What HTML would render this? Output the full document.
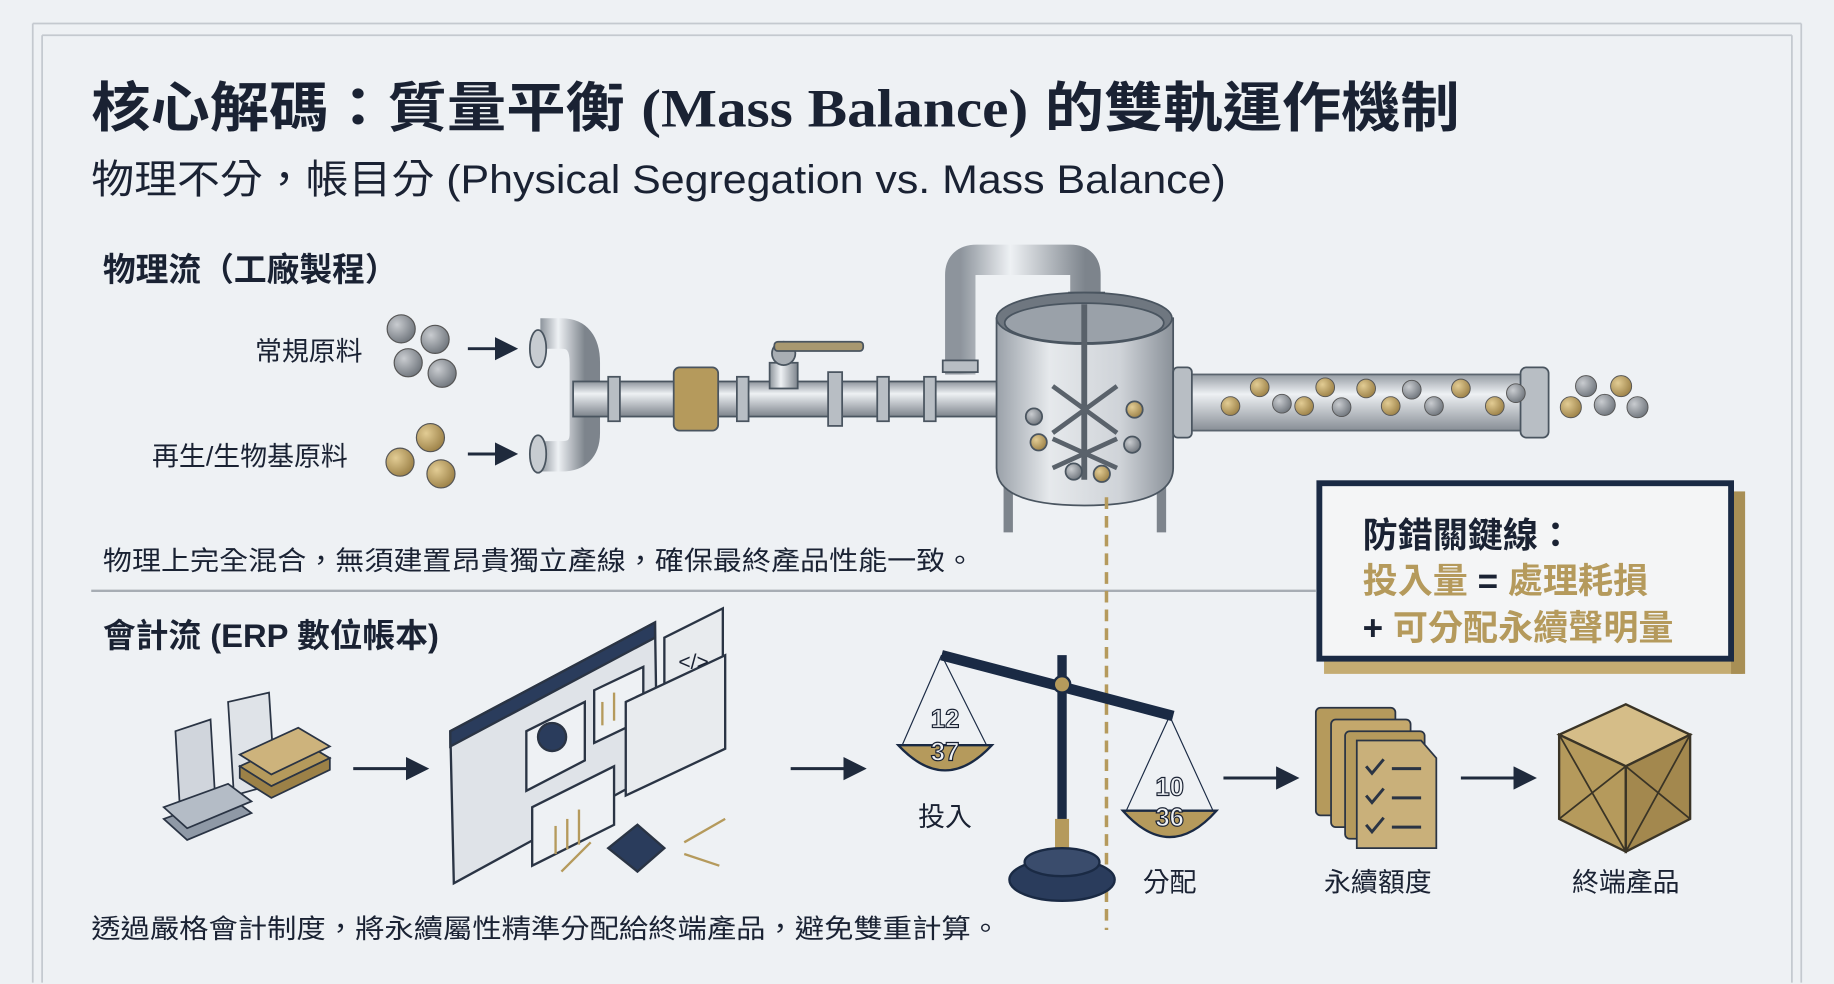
<!DOCTYPE html>
<html><head><meta charset="utf-8"><style>
html,body{margin:0;padding:0;background:#eef1f4;}
svg{display:block;}
text{font-family:"Liberation Sans","Noto Sans CJK TC",sans-serif;fill:#1a2233;}
</style></head><body>
<svg width="1834" height="984" viewBox="0 0 1568 841" xmlns="http://www.w3.org/2000/svg">
<defs>
<linearGradient id="pipe" x1="0" y1="0" x2="0" y2="1"><stop offset="0" stop-color="#8d949c"/><stop offset="0.35" stop-color="#eef1f4"/><stop offset="1" stop-color="#7d848c"/></linearGradient>
<linearGradient id="pipev" x1="0" y1="0" x2="1" y2="0"><stop offset="0" stop-color="#8d949c"/><stop offset="0.4" stop-color="#eef1f4"/><stop offset="1" stop-color="#7d848c"/></linearGradient>
<linearGradient id="tank" x1="0" y1="0" x2="1" y2="0"><stop offset="0" stop-color="#9aa1a9"/><stop offset="0.3" stop-color="#e6e9ec"/><stop offset="0.7" stop-color="#cfd3d8"/><stop offset="1" stop-color="#8a9199"/></linearGradient>
<radialGradient id="gb" cx="0.35" cy="0.35" r="0.7"><stop offset="0" stop-color="#c9ccd0"/><stop offset="1" stop-color="#70767d"/></radialGradient>
<radialGradient id="yb" cx="0.35" cy="0.35" r="0.7"><stop offset="0" stop-color="#e2cc94"/><stop offset="1" stop-color="#9c8147"/></radialGradient>
<marker id="ar" markerWidth="8" markerHeight="8" refX="6" refY="4" orient="auto"><path d="M0,0 L8,4 L0,8 z" fill="#1f2a3c"/></marker>
</defs>
<rect width="1568" height="841" fill="#eef1f4"/>
<g stroke="#c4c9cf" stroke-width="1.5" fill="none">
<path d="M28,20 H1540 M36,30 H1532 M28,20 V840 M36,30 V840 M1540,20 V840 M1532,30 V840"/>
</g>
<text x="78" y="108" font-size="46" font-weight="bold" textLength="1170" lengthAdjust="spacingAndGlyphs">核心解碼：質量平衡 <tspan font-family="Liberation Serif,serif">(Mass Balance)</tspan> 的雙軌運作機制</text>
<text x="78" y="165" font-size="34" textLength="970" lengthAdjust="spacingAndGlyphs">物理不分，帳目分  (Physical Segregation vs. Mass Balance)</text>
<text x="88" y="240" font-size="28" font-weight="bold">物理流（工廠製程）</text>
<text x="218" y="308" font-size="23">常規原料</text>
<text x="130" y="398" font-size="23">再生/生物基原料</text>
<g stroke="#555" stroke-width="1"><circle cx="343" cy="281" r="12" fill="url(#gb)"/><circle cx="372" cy="290" r="12" fill="url(#gb)"/><circle cx="349" cy="310" r="12" fill="url(#gb)"/><circle cx="378" cy="319" r="12" fill="url(#gb)"/>
<circle cx="368" cy="374" r="12" fill="url(#yb)"/><circle cx="342" cy="395" r="12" fill="url(#yb)"/><circle cx="377" cy="405" r="12" fill="url(#yb)"/></g>
<g stroke="#1f2a3c" stroke-width="2.5" marker-end="url(#ar)"><line x1="400" y1="298" x2="438" y2="298"/><line x1="400" y1="388" x2="438" y2="388"/></g>
<g stroke="#4a5560" stroke-width="1.5">
<path d="M462,285 H480 Q500,285 500,310 V341" fill="none" stroke="url(#pipev)" stroke-width="26"/>
<path d="M462,390 H480 Q500,390 500,370 V341" fill="none" stroke="url(#pipev)" stroke-width="26"/>
<ellipse cx="460" cy="298" rx="7" ry="16" fill="#c7ccd1"/><ellipse cx="460" cy="388" rx="7" ry="16" fill="#c7ccd1"/>
<rect x="490" y="326" width="370" height="30" fill="url(#pipe)"/>
<rect x="576" y="314" width="38" height="54" rx="5" fill="#b59a5c"/>
<rect x="658" y="310" width="24" height="22" fill="url(#pipev)"/><circle cx="670" cy="302" r="10" fill="#a8aeb4"/>
<rect x="662" y="292" width="76" height="8" rx="3" fill="#a89870"/>
<rect x="520" y="322" width="10" height="38" fill="#b8bec4"/><rect x="630" y="322" width="10" height="38" fill="#b8bec4"/><rect x="708" y="318" width="12" height="46" fill="#b8bec4"/><rect x="750" y="322" width="10" height="38" fill="#b8bec4"/><rect x="790" y="322" width="10" height="38" fill="#b8bec4"/>
<path d="M821,320 V235 Q821,222 835,222 H915 Q928,222 928,235 V275" fill="none" stroke="url(#pipev)" stroke-width="26"/>
<rect x="806" y="308" width="30" height="10" fill="#b8bec4"/><rect x="914" y="250" width="30" height="10" fill="#b8bec4"/>
<line x1="862" y1="410" x2="862" y2="455" stroke="#7d848c" stroke-width="8"/><line x1="993" y1="410" x2="993" y2="455" stroke="#7d848c" stroke-width="8"/>
<path d="M852,272 V400 Q852,432 927,432 Q1003,432 1003,400 V272 z" fill="url(#tank)"/>
<ellipse cx="927" cy="272" rx="75" ry="22" fill="#6f7780"/><ellipse cx="927" cy="276" rx="68" ry="17" fill="#9aa1a9"/>
<line x1="927" y1="260" x2="927" y2="410" stroke="#59616a" stroke-width="5"/>
<path d="M900,330 L955,370 M955,330 L900,370 M900,375 L955,400 M955,375 L900,400" stroke="#5a626b" stroke-width="4"/>
<circle cx="884" cy="356" r="7" fill="url(#gb)"/><circle cx="888" cy="378" r="7" fill="url(#yb)"/><circle cx="968" cy="380" r="7" fill="url(#gb)"/><circle cx="918" cy="403" r="7" fill="url(#gb)"/><circle cx="942" cy="405" r="7" fill="url(#yb)"/><circle cx="970" cy="350" r="7" fill="url(#yb)"/>
<rect x="1005" y="320" width="312" height="48" fill="url(#pipe)" opacity="0.9"/>
<rect x="1003" y="314" width="16" height="60" rx="4" fill="#b8bec4"/><rect x="1300" y="314" width="24" height="60" rx="5" fill="#b8bec4"/>
</g>
<g stroke="#555" stroke-width="0.8">
<circle cx="1052" cy="347" r="8" fill="url(#yb)"/><circle cx="1077" cy="331" r="8" fill="url(#yb)"/><circle cx="1096" cy="345" r="8" fill="url(#gb)"/><circle cx="1115" cy="347" r="8" fill="url(#yb)"/><circle cx="1133" cy="331" r="8" fill="url(#yb)"/><circle cx="1147" cy="348" r="8" fill="url(#gb)"/><circle cx="1168" cy="332" r="8" fill="url(#yb)"/><circle cx="1189" cy="347" r="8" fill="url(#yb)"/><circle cx="1207" cy="333" r="8" fill="url(#gb)"/><circle cx="1226" cy="347" r="8" fill="url(#gb)"/><circle cx="1249" cy="332" r="8" fill="url(#yb)"/><circle cx="1278" cy="347" r="8" fill="url(#yb)"/><circle cx="1296" cy="336" r="8" fill="url(#gb)"/>
<circle cx="1356" cy="330" r="9" fill="url(#gb)"/><circle cx="1386" cy="330" r="9" fill="url(#yb)"/><circle cx="1343" cy="348" r="9" fill="url(#yb)"/><circle cx="1372" cy="346" r="9" fill="url(#gb)"/><circle cx="1400" cy="348" r="9" fill="url(#gb)"/>
</g>
<text x="88" y="487" font-size="23" textLength="745" lengthAdjust="spacingAndGlyphs">物理上完全混合，無須建置昂貴獨立產線，確保最終產品性能一致。</text>
<line x1="78" y1="505" x2="1125" y2="505" stroke="#a7adb4" stroke-width="2"/>
<line x1="946" y1="425" x2="946" y2="795" stroke="#b59a5c" stroke-width="3" stroke-dasharray="10,6"/>
<rect x="1132" y="560" width="358" height="16" fill="#c4ac72"/>
<rect x="1480" y="420" width="12" height="156" fill="#a88f55"/>
<rect x="1128" y="413" width="352" height="150" fill="#f4f5f6" stroke="#1a2a44" stroke-width="5"/>
<text x="1165" y="468" font-size="30" font-weight="bold">防錯關鍵線：</text>
<text x="1165" y="507" font-size="30" font-weight="bold" style="fill:#b59a5c">投入量 <tspan style="fill:#1a2233">=</tspan> 處理耗損</text>
<text x="1165" y="547" font-size="30" font-weight="bold" style="fill:#b59a5c"><tspan style="fill:#1a2233">+</tspan> 可分配永續聲明量</text>
<text x="88" y="553" font-size="28" font-weight="bold">會計流 (ERP 數位帳本)</text>
<g stroke="#2a3444" stroke-width="1.5">
<path d="M150,625 L180,615 L185,700 L155,712 z" fill="#d0d5dc"/>
<path d="M195,600 L230,592 L235,670 L200,680 z" fill="#dfe3e8"/>
<path d="M140,700 L195,680 L215,695 L160,718 z" fill="#8f99a6"/>
<path d="M140,690 L195,670 L215,685 L160,708 z" fill="#b4bcc6"/>
<path d="M205,655 L255,632 L282,648 L232,672 z" fill="#b59a5c"/>
<path d="M205,645 L255,622 L282,638 L232,662 z" fill="#cdb37c"/>
<path d="M205,665 L232,682 L282,658 L282,648 L232,672 L205,655 z" fill="#9c8147"/>
</g>
<g stroke="#1f2a3c" stroke-width="2.5" marker-end="url(#ar)"><line x1="302" y1="657" x2="362" y2="657"/><line x1="676" y1="657" x2="736" y2="657"/><line x1="1046" y1="665" x2="1106" y2="665"/><line x1="1249" y1="665" x2="1309" y2="665"/></g>
<g stroke="#2a3444" stroke-width="2">
<path d="M385,625 L560,532 L562,660 L388,755 z" fill="#dfe3e8"/>
<path d="M385,625 L560,532 L560,545 L385,638 z" fill="#2a3c5c"/>
<path d="M450,625 L500,600 L500,650 L450,676 z" fill="#eef1f4"/>
<circle cx="472" cy="630" r="12" fill="#2a3c5c"/>
<path d="M455,690 L525,655 L525,705 L455,740 z" fill="#eef1f4"/>
<path d="M508,590 L550,570 L550,615 L508,635 z" fill="#eef1f4"/>
<path d="M568,545 L618,520 L618,570 L568,596 z" fill="#e8ebee"/>
<path d="M535,600 L620,560 L620,640 L535,680 z" fill="#e8ebee"/>
<path d="M520,725 L545,705 L568,725 L545,745 z" fill="#2a3c5c"/>
</g>
<text x="580" y="572" font-size="18" fill="#555">&lt;/&gt;</text>
<g stroke="#b59a5c" stroke-width="2"><line x1="475" y1="706" x2="475" y2="730"/><line x1="485" y1="700" x2="485" y2="726"/><line x1="495" y1="692" x2="495" y2="722"/><line x1="515" y1="600" x2="515" y2="620"/><line x1="525" y1="592" x2="525" y2="616"/><line x1="505" y1="720" x2="480" y2="745"/><line x1="585" y1="720" x2="620" y2="700"/><line x1="585" y1="730" x2="615" y2="740"/></g>
<g stroke="#1a2a44">
<line x1="908" y1="560" x2="908" y2="730" stroke-width="8"/>
<rect x="902" y="700" width="12" height="32" fill="#b59a5c" stroke="none"/>
<ellipse cx="908" cy="752" rx="45" ry="18" fill="#2a3c5c" stroke-width="2"/>
<ellipse cx="908" cy="737" rx="32" ry="12" fill="#3a4c6c" stroke-width="2"/>
<line x1="805" y1="560" x2="1003" y2="612" stroke-width="9"/>
<circle cx="908" cy="585" r="7" fill="#b59a5c" stroke-width="2"/>
<g stroke-width="1" fill="none"><path d="M805,560 L770,640 M805,560 L845,640 M1000,612 L962,695 M1000,612 L1038,695"/></g>
<path d="M768,637 Q808,680 848,637 z" fill="#b59a5c" stroke-width="2"/>
<path d="M960,693 Q1000,738 1040,693 z" fill="#b59a5c" stroke-width="2"/>
</g>
<text x="808" y="622" font-size="22" text-anchor="middle" font-weight="bold" style="fill:#eef1f4;stroke:#1a2233;stroke-width:1">12</text>
<text x="808" y="650" font-size="22" text-anchor="middle" font-weight="bold" style="fill:#eef1f4;stroke:#1a2233;stroke-width:1">37</text>
<text x="1000" y="680" font-size="22" text-anchor="middle" font-weight="bold" style="fill:#eef1f4;stroke:#1a2233;stroke-width:1">10</text>
<text x="1000" y="706" font-size="22" text-anchor="middle" font-weight="bold" style="fill:#eef1f4;stroke:#1a2233;stroke-width:1">36</text>
<text x="808" y="706" font-size="23" text-anchor="middle">投入</text>
<text x="1000" y="762" font-size="23" text-anchor="middle">分配</text>
<g stroke="#2a3444" stroke-width="1.5">
<rect x="1125" y="605" width="68" height="92" rx="4" fill="#b59a5c"/>
<rect x="1138" y="615" width="68" height="92" rx="4" fill="#c4a86c"/>
<rect x="1150" y="625" width="68" height="92" rx="4" fill="#b59a5c"/>
<path d="M1160,633 H1215 L1228,648 V725 H1160 z" fill="#c9b07a"/>
<path d="M1168,655 l5,6 l10,-12 M1168,680 l5,6 l10,-12 M1168,705 l5,6 l10,-12 M1190,657 H1215 M1190,682 H1215 M1190,707 H1215" fill="none" stroke-width="2.5"/>
</g>
<text x="1178" y="762" font-size="23" text-anchor="middle">永續額度</text>
<g stroke="#3a3426" stroke-width="2">
<path d="M1333,628 L1390,602 L1445,628 L1390,655 z" fill="#d5bd88"/>
<path d="M1333,628 L1390,655 L1390,728 L1333,700 z" fill="#b59a5c"/>
<path d="M1390,655 L1445,628 L1445,700 L1390,728 z" fill="#a3884e"/>
<path d="M1333,628 L1390,728 M1390,655 L1333,700 M1390,655 L1445,700 M1445,628 L1390,728" fill="none" stroke-width="1.5"/>
</g>
<text x="1390" y="762" font-size="23" text-anchor="middle">終端產品</text>
<text x="78" y="802" font-size="23" textLength="777" lengthAdjust="spacingAndGlyphs">透過嚴格會計制度，將永續屬性精準分配給終端產品，避免雙重計算。</text>
</svg>
</body></html>
